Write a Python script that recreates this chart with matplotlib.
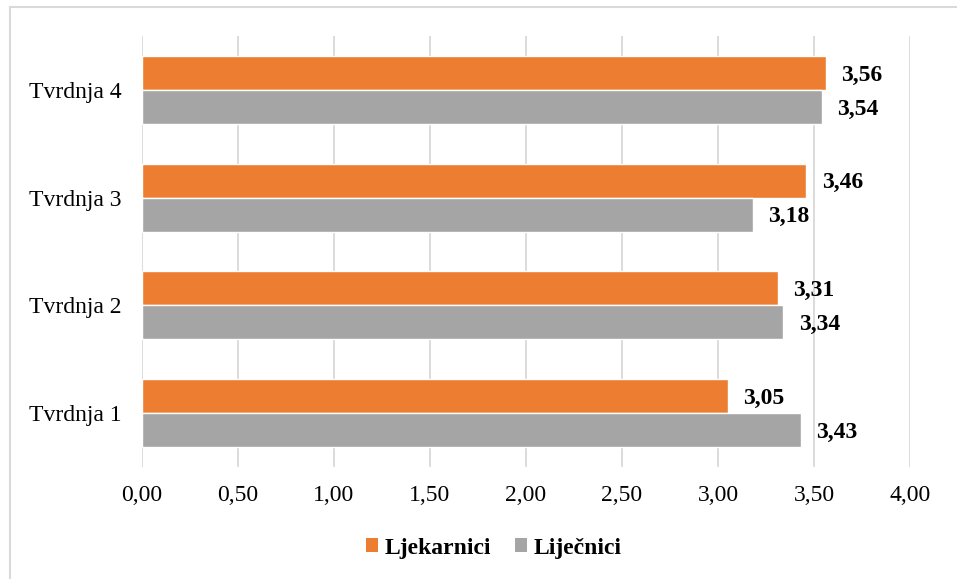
import numpy as np
import matplotlib
matplotlib.use('Agg')
import matplotlib.pyplot as plt
from matplotlib.ticker import FuncFormatter, MultipleLocator
from matplotlib.lines import Line2D
from matplotlib.patches import Patch

categories = ['Tvrdnja 1', 'Tvrdnja 2', 'Tvrdnja 3', 'Tvrdnja 4']
ljekarnici = [3.05, 3.31, 3.46, 3.56]
lijecnici = [3.43, 3.34, 3.18, 3.54]
series_names = ['Ljekarnici', 'Liječnici']

orange = '#ED7D31'
gray = '#A5A5A5'
grid_col = '#D9D9D9'

plt.rcParams['font.family'] = ['Liberation Serif', 'DejaVu Serif']
plt.rcParams['font.size'] = 17

fig = plt.figure(figsize=(9.57, 5.79), dpi=100)
ax = fig.add_axes([0.1484, 0.1934, 0.8025, 0.7444])

y = np.arange(len(categories))
h = 0.3155
ax.barh(y + h / 2, ljekarnici, height=h, color=orange, edgecolor='white', linewidth=1, zorder=3)
ax.barh(y - h / 2, lijecnici, height=h, color=gray, edgecolor='white', linewidth=1, zorder=3)

# value labels, bold, to the right of each bar
for i in range(len(categories)):
    ax.annotate(f'{ljekarnici[i]:.2f}'.replace('.', ','), (ljekarnici[i], y[i] + h / 2),
                xytext=(11, -1.5), textcoords='offset points', va='center', ha='left',
                fontweight='bold')
    ax.annotate(f'{lijecnici[i]:.2f}'.replace('.', ','), (lijecnici[i], y[i] - h / 2),
                xytext=(11, -1.5), textcoords='offset points', va='center', ha='left',
                fontweight='bold')

ax.set_xlim(0, 4)
ax.set_ylim(-0.5, 3.5)
ax.xaxis.set_major_locator(MultipleLocator(0.5))
ax.xaxis.set_major_formatter(FuncFormatter(lambda v, p: f'{v:.2f}'.replace('.', ',')))
ax.set_yticks(y)
ax.set_yticklabels(categories)
ax.tick_params(axis='x', length=0, pad=13)
ax.tick_params(axis='y', length=0, pad=15)
ax.grid(axis='x', color=grid_col, linewidth=1.3, zorder=0)
for s in ax.spines.values():
    s.set_visible(False)

handles = [Patch(facecolor=orange), Patch(facecolor=gray)]
fig.legend(handles, series_names, loc='center', bbox_to_anchor=(0.516, 0.0535),
           ncol=2, frameon=False, handlelength=0.5, handleheight=0.5,
           handletextpad=0.3, columnspacing=1.0, prop={'weight': 'bold', 'size': 17})

# chart area border (top and left visible)
fig.add_artist(Line2D([10 / 957, 1], [1 - 7 / 579, 1 - 7 / 579], color=grid_col, linewidth=1.5, transform=fig.transFigure))
fig.add_artist(Line2D([10 / 957, 10 / 957], [0, 1 - 7 / 579], color=grid_col, linewidth=1.5, transform=fig.transFigure))

fig.savefig('out.png', dpi=100)
